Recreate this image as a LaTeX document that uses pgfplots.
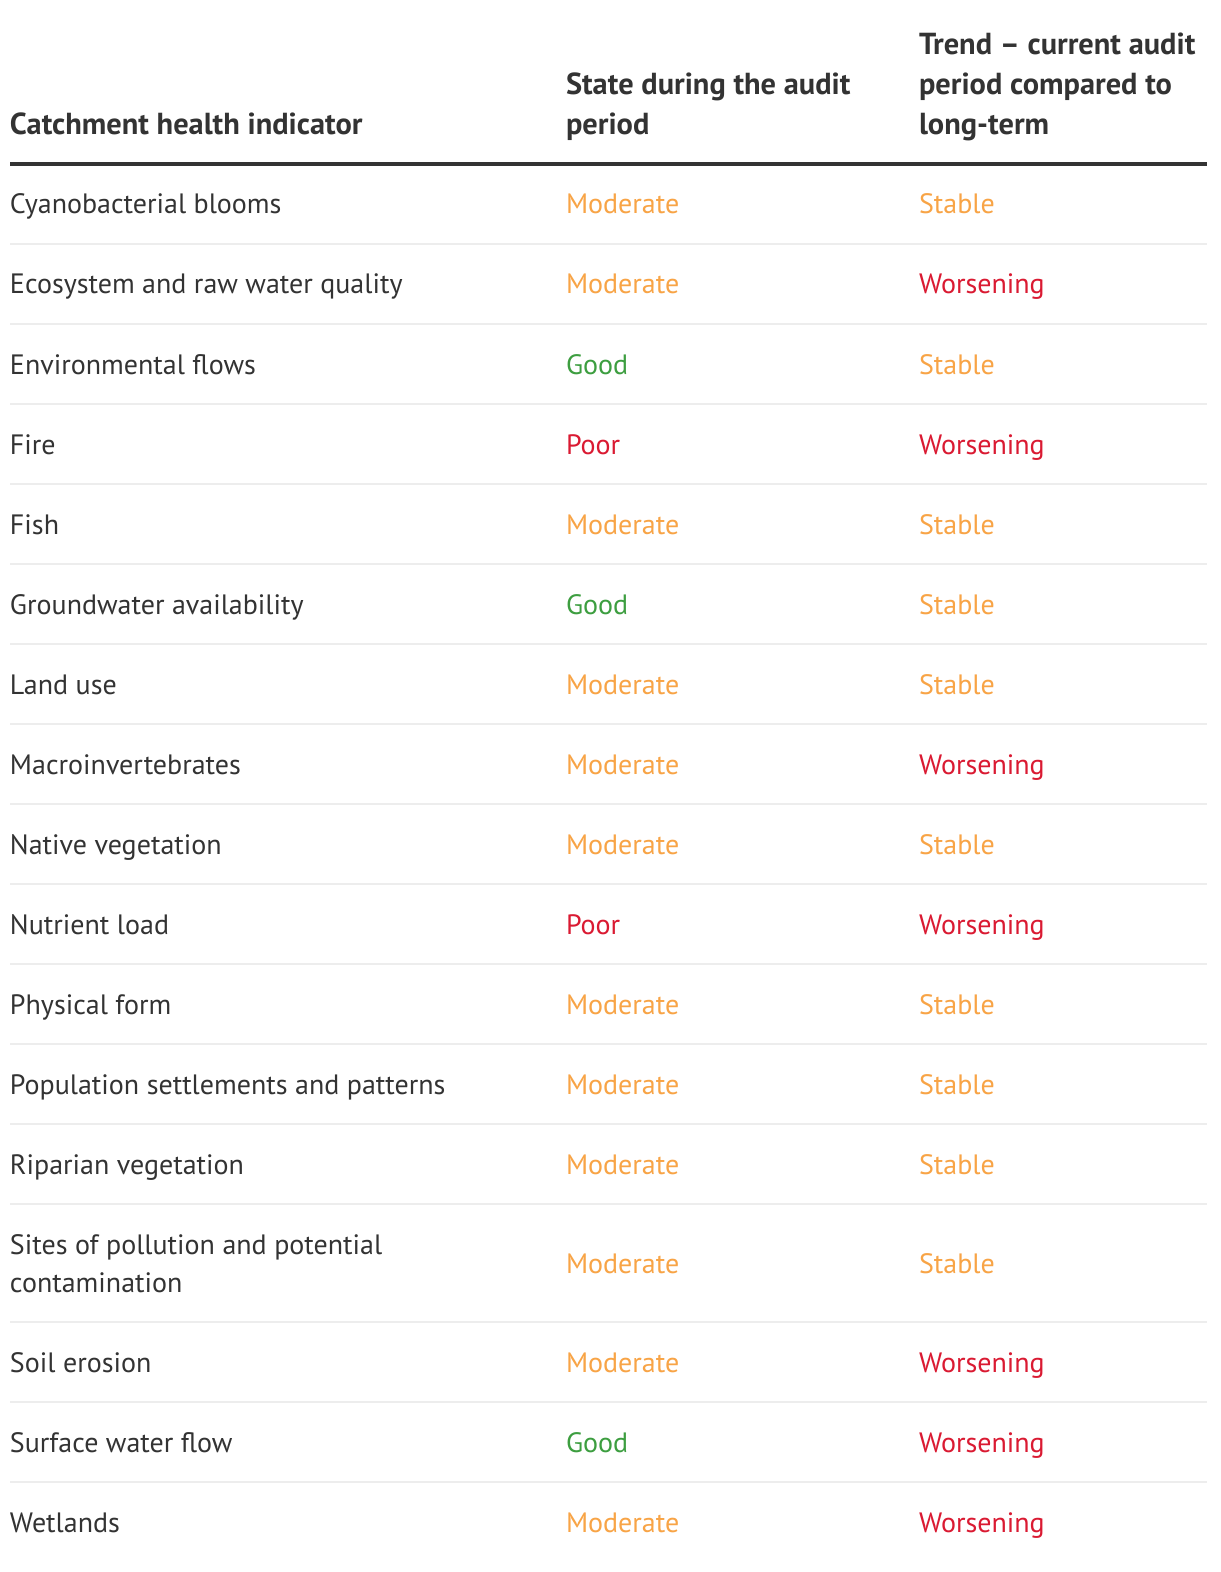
\documentclass[border=0pt]{standalone}
\usepackage{fontspec}
\setmainfont{PT Sans}
\usepackage{pgfplots}
\pgfplotsset{compat=1.18}
\definecolor{txt}{HTML}{333333}
\definecolor{orng}{HTML}{F8A446}
\definecolor{rd}{HTML}{DA1A32}
\definecolor{grn}{HTML}{3D9E40}
\definecolor{rule}{HTML}{EDEDED}
\begin{document}
\begin{tikzpicture}
\begin{axis}[
  width=610pt, height=786pt, scale only axis,
  xmin=0, xmax=1220, ymin=0, ymax=1572, y dir=reverse,
  hide axis, clip=false,
  unbounded coords=jump,
  every node near coord/.append style={anchor=base west, inner sep=0pt, outer sep=0pt},
]
\addplot[draw=none, fill=white] coordinates {(0,0) (1220,0) (1220,1572) (0,1572) (0,0)};
% thin row rules
\addplot[rule, line width=1pt] coordinates {
(10,244) (1207,244) (10,nan)
(10,324) (1207,324) (10,nan)
(10,404) (1207,404) (10,nan)
(10,484) (1207,484) (10,nan)
(10,564) (1207,564) (10,nan)
(10,644) (1207,644) (10,nan)
(10,724) (1207,724) (10,nan)
(10,804) (1207,804) (10,nan)
(10,884) (1207,884) (10,nan)
(10,964) (1207,964) (10,nan)
(10,1044) (1207,1044) (10,nan)
(10,1124) (1207,1124) (10,nan)
(10,1204) (1207,1204) (10,nan)
(10,1322) (1207,1322) (10,nan)
(10,1402) (1207,1402) (10,nan)
(10,1482) (1207,1482)
};
% header rule
\addplot[txt, line width=2.2pt] coordinates {(10,164) (1207,164)};
% headers
\addplot[only marks, mark=none, nodes near coords, point meta=explicit symbolic,
  nodes near coords style={font=\fontsize{15.2pt}{18pt}\selectfont\bfseries, text=txt}]
  table[x=x, y=y, meta=t, col sep=comma, row sep=\\] {
x,y,t\\
10,135,Catchment health indicator\\
566,95,State during the audit\\
566,135,period\\
919,55,Trend – current audit\\
919,95,period compared to\\
919,135,long-term\\
};
% first column
\addplot[only marks, mark=none, nodes near coords, point meta=explicit symbolic,
  nodes near coords style={font=\fontsize{14pt}{16pt}\selectfont, text=txt}]
  table[x=x, y=y, meta=t, col sep=comma, row sep=\\] {
x,y,t\\
10,214,Cyanobacterial blooms\\
10,294,Ecosystem and raw water quality\\
10,374,Environmental flows\\
10,454,Fire\\
10,534,Fish\\
10,614,Groundwater availability\\
10,694,Land use\\
10,774,Macroinvertebrates\\
10,854,Native vegetation\\
10,934,Nutrient load\\
10,1014,Physical form\\
10,1094,Population settlements and patterns\\
10,1174,Riparian vegetation\\
10,1254,Sites of pollution and potential\\
10,1292,contamination\\
10,1372,Soil erosion\\
10,1452,Surface water flow\\
10,1532,Wetlands\\
};
% orange
\addplot[only marks, mark=none, nodes near coords, point meta=explicit symbolic,
  nodes near coords style={font=\fontsize{14pt}{16pt}\selectfont, text=orng}]
  table[x=x, y=y, meta=t, col sep=comma, row sep=\\] {
x,y,t\\
566,214,Moderate\\
919,214,Stable\\
566,294,Moderate\\
919,374,Stable\\
566,534,Moderate\\
919,534,Stable\\
919,614,Stable\\
566,694,Moderate\\
919,694,Stable\\
566,774,Moderate\\
566,854,Moderate\\
919,854,Stable\\
566,1014,Moderate\\
919,1014,Stable\\
566,1094,Moderate\\
919,1094,Stable\\
566,1174,Moderate\\
919,1174,Stable\\
566,1273,Moderate\\
919,1273,Stable\\
566,1372,Moderate\\
566,1532,Moderate\\
};
% green
\addplot[only marks, mark=none, nodes near coords, point meta=explicit symbolic,
  nodes near coords style={font=\fontsize{14pt}{16pt}\selectfont, text=grn}]
  table[x=x, y=y, meta=t, col sep=comma, row sep=\\] {
x,y,t\\
566,374,Good\\
566,614,Good\\
566,1452,Good\\
};
% red
\addplot[only marks, mark=none, nodes near coords, point meta=explicit symbolic,
  nodes near coords style={font=\fontsize{14pt}{16pt}\selectfont, text=rd}]
  table[x=x, y=y, meta=t, col sep=comma, row sep=\\] {
x,y,t\\
919,294,Worsening\\
566,454,Poor\\
919,454,Worsening\\
919,774,Worsening\\
566,934,Poor\\
919,934,Worsening\\
919,1372,Worsening\\
919,1452,Worsening\\
919,1532,Worsening\\
};
\end{axis}
\end{tikzpicture}
\end{document}
